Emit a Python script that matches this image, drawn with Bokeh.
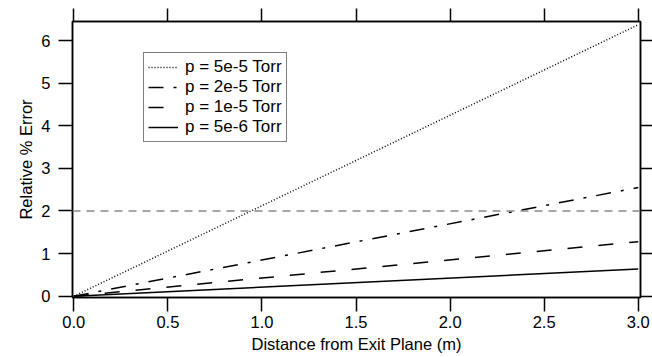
from bokeh.plotting import figure
from bokeh.models import Range1d, LinearAxis, FixedTicker, Span, Legend, LegendItem, NumeralTickFormatter
from bokeh.embed import file_html
from bokeh.resources import INLINE

# Data (linear growth from the exit plane)
distance = [0.0, 3.0]
err_5e5 = [0.0, 6.37]
err_2e5 = [0.0, 2.55]
err_1e5 = [0.0, 1.28]
err_5e6 = [0.0, 0.64]
labels = ["p = 5e-5 Torr", "p = 2e-5 Torr", "p = 1e-5 Torr", "p = 5e-6 Torr"]
threshold = 2.0
x_ticks = [0.0, 0.5, 1.0, 1.5, 2.0, 2.5, 3.0]
y_ticks = [0, 1, 2, 3, 4, 5, 6]

FONT = "Liberation Sans"
FS = "16.5px"

p = figure(frame_width=568, frame_height=276,
           x_range=Range1d(-0.007, 3.012), y_range=Range1d(-0.03, 6.446),
           output_backend="svg", toolbar_location=None,
           x_axis_location=None, y_axis_location=None,
           min_border_left=72, min_border_right=12, min_border_top=21, min_border_bottom=60)
p.grid.visible = False
p.background_fill_color = "white"
p.border_fill_color = "white"
p.outline_line_color = "black"
p.outline_line_width = 1.5


def make_axis(show_labels, ticks):
    ax = LinearAxis(ticker=FixedTicker(ticks=ticks))
    ax.axis_line_width = 1.5
    ax.major_tick_line_width = 1.5
    ax.major_tick_out = 14
    ax.major_tick_in = 0
    ax.minor_tick_line_color = None
    ax.major_label_text_font = FONT
    ax.major_label_text_font_size = FS
    ax.major_label_text_color = "black"
    ax.axis_label_text_font = FONT
    ax.axis_label_text_font_size = FS
    ax.axis_label_text_font_style = "normal"
    ax.axis_label_text_color = "black"
    if not show_labels:
        ax.major_label_text_font_size = "0px"
        ax.major_label_text_color = None
    return ax


bottom = make_axis(True, x_ticks)
bottom.formatter = NumeralTickFormatter(format="0.0")
bottom.axis_label = "Distance from Exit Plane (m)"
bottom.major_label_standoff = 4
bottom.axis_label_standoff = 4
left = make_axis(True, y_ticks)
left.axis_label = "Relative % Error"
left.major_label_standoff = 8
left.axis_label_standoff = 3
top = make_axis(False, x_ticks)
top.major_tick_out = 13
right = make_axis(False, y_ticks)
right.major_tick_out = 12

p.add_layout(bottom, "below")
p.add_layout(left, "left")
p.add_layout(top, "above")
p.add_layout(right, "right")

p.add_layout(Span(location=threshold, dimension="width", line_color="#8a8a8a",
                  line_width=1.5, line_dash="8 6"))

r1 = p.line(distance, err_5e5, line_color="black", line_width=1.5, line_dash="1 2")
r2 = p.line(distance, err_2e5, line_color="black", line_width=1.5, line_dash="15 10 3 10")
r3 = p.line(distance, err_1e5, line_color="black", line_width=1.5, line_dash="15 16")
r4 = p.line(distance, err_5e6, line_color="black", line_width=1.5)

legend = Legend(items=[LegendItem(label=l, renderers=[r]) for l, r in zip(labels, [r1, r2, r3, r4])],
                location=(71, 155))
legend.label_text_font = FONT
legend.label_text_font_size = "17px"
legend.label_text_color = "black"
legend.glyph_width = 30
legend.glyph_height = 18
legend.label_height = 18
legend.label_standoff = 7
legend.spacing = 0
legend.padding = 4
legend.margin = 0
legend.border_line_color = "black"
legend.border_line_width = 1.5
legend.background_fill_alpha = 1.0
p.add_layout(legend, "center")

open("out.html", "w").write(file_html(p, INLINE))
